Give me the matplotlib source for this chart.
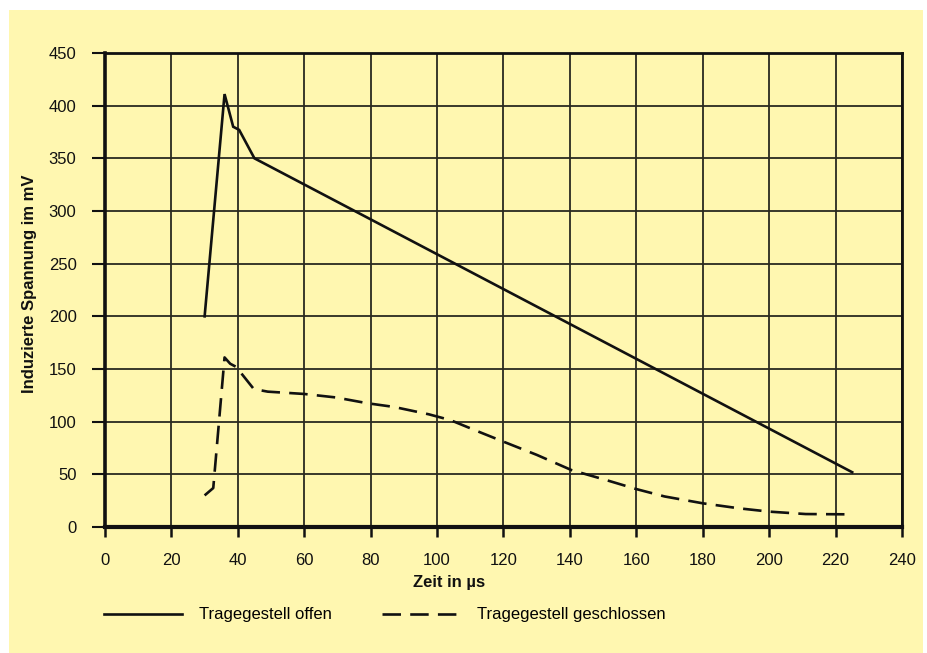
import matplotlib
matplotlib.use("Agg")
import matplotlib.pyplot as plt
from matplotlib.patches import Rectangle

# ---- data ----
x_offen = [30, 36, 38.6, 40.4, 45, 225]
y_offen = [200, 411, 380, 377, 350, 52]

x_geschl = [30, 32.6, 36, 37.7, 39.5, 44.8, 49, 60, 69.5, 79, 87, 97.5, 104, 112.5,
            120, 130, 140.5, 151, 160, 168.5, 180, 191, 200, 211, 225]
y_geschl = [30, 37, 161, 155, 152, 131, 128.5, 126.3, 123, 117.5, 114, 107, 101.5, 90.5,
            81, 68.5, 54, 44.5, 36, 29, 22.5, 17.7, 14.6, 12.3, 12]

x_ticks = list(range(0, 241, 20))
y_ticks = list(range(0, 451, 50))

label_offen = "Tragegestell offen"
label_geschl = "Tragegestell geschlossen"
x_label = "Zeit in µs"
y_label = "Induzierte Spannung im mV"

# ---- styling ----
W, H = 928, 653
plt.rcParams['font.family'] = ['Liberation Sans', 'DejaVu Sans']
bg = '#fff7b0'
ink = '#111111'

fig = plt.figure(figsize=(W / 100, H / 100), dpi=100)
fig.patch.set_facecolor('white')
fig.add_artist(Rectangle((9 / W, 0), (923 - 9) / W, (H - 10) / H,
                         transform=fig.transFigure, facecolor=bg, edgecolor='none', zorder=-10))

ax = fig.add_axes([105 / W, 1 - 527 / H, (902 - 105) / W, (527 - 53) / H])
ax.set_facecolor(bg)
ax.set_xlim(0, 240)
ax.set_ylim(0, 450)
ax.set_xticks(x_ticks)
ax.set_yticks(y_ticks)
ax.grid(True, color='#2a2a20', linewidth=1.3)
ax.set_axisbelow(True)

for side, lw in [('left', 2.6), ('bottom', 3.0), ('top', 2.0), ('right', 2.0)]:
    ax.spines[side].set_linewidth(lw)
    ax.spines[side].set_color(ink)

ax.tick_params(axis='y', length=9.5, width=1.5, pad=11, labelsize=12, colors=ink)
ax.tick_params(axis='x', length=7, width=1.8, pad=12, labelsize=12, colors=ink)

l1, = ax.plot(x_offen, y_offen, color=ink, lw=1.9, solid_joinstyle='miter', label=label_offen)
l2, = ax.plot(x_geschl, y_geschl, color=ink, lw=1.9, dashes=(7, 3.5), label=label_geschl)

fig.text(449 / W, 1 - 582 / H, x_label, ha='center', va='center',
         fontsize=12, fontweight='bold', color=ink)
fig.text(30 / W, 1 - 284 / H, y_label, ha='center', va='center', rotation=90,
         fontsize=12, fontweight='bold', color=ink)

leg = fig.legend(handles=[l1, l2], loc='center left', bbox_to_anchor=(104 / W, 1 - 615 / H),
                 ncol=2, frameon=False, fontsize=12, handlelength=4.7, handletextpad=1.0,
                 columnspacing=3.0, borderpad=0, borderaxespad=0)

fig.savefig('out.png', dpi=100, facecolor=fig.get_facecolor())
